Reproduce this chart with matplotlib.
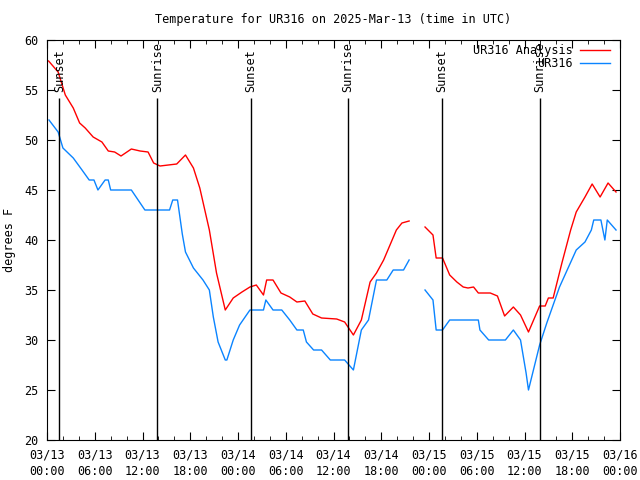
import matplotlib
matplotlib.use("Agg")
import matplotlib.pyplot as plt
import numpy as np

# Hours since 03/13 00:00 UTC
analysis_hours = [0.2, 1.4, 2.3, 3.3, 4.1, 4.8, 5.8, 6.9, 7.7, 8.5, 9.3, 10.6, 11.7, 12.7,
                  13.4, 14.2, 16.3, 17.4, 18.4, 19.2, 20.4, 21.3, 22.4, 23.4, 24.5, 25.5,
                  26.3, 27.2, 27.6, 28.4, 29.4, 30.5, 31.4, 32.4, 33.4, 34.5, 36.4, 37.4,
                  38.5, 39.5, 40.6, 41.4, 42.3, 43.1, 43.9, 44.6, 45.5, 46.5,
                  47.5, 48.5, 48.9, 49.7, 50.6, 51.5, 52.3, 52.9, 53.6, 54.2, 55.7, 56.6,
                  57.5, 58.6, 59.5, 60.5, 61.9, 62.6, 63.0, 63.6, 64.7, 65.8, 66.5, 67.6,
                  68.5, 69.5, 70.5, 71.5]
analysis_temp = [57.9, 56.8, 54.5, 53.2, 51.7, 51.2, 50.3, 49.8, 48.9, 48.8, 48.4, 49.1, 48.9, 48.8,
                 47.7, 47.4, 47.6, 48.5, 47.2, 45.2, 41.0, 36.7, 33.0, 34.2, 34.8, 35.3,
                 35.5, 34.5, 36.0, 36.0, 34.7, 34.3, 33.8, 33.9, 32.6, 32.2, 32.1, 31.8,
                 30.5, 32.0, 35.8, 36.7, 38.0, 39.5, 41.0, 41.7, 41.9, np.nan,
                 41.3, 40.5, 38.2, 38.2, 36.5, 35.8, 35.3, 35.2, 35.3, 34.7, 34.7, 34.4,
                 32.4, 33.3, 32.5, 30.8, 33.4, 33.4, 34.2, 34.2, 37.7, 41.0, 42.8, 44.3,
                 45.6, 44.3, 45.7, 44.8]

obs_hours = [0.25, 1.4, 2.0, 3.3, 4.4, 5.3, 5.9, 6.4, 7.3, 7.7, 8.0, 10.6, 12.3, 15.4, 15.8,
             16.4, 17.0, 17.4, 18.4, 19.6, 20.4, 20.9, 21.5, 22.4, 22.6, 23.4, 24.2, 25.5,
             27.2, 27.5, 28.4, 29.5, 30.5, 31.4, 32.2, 32.6, 33.5, 34.5, 35.6, 37.4, 38.5,
             39.5, 40.4, 41.4, 42.7, 43.5, 44.8, 45.5, 46.5,
             47.5, 48.5, 48.9, 49.7, 50.6, 54.2, 54.4, 55.5, 57.6, 58.6, 59.5, 60.2, 60.5,
             61.9, 62.8, 64.4, 66.5, 67.6, 68.4, 68.7, 69.6, 70.1, 70.4, 71.5]
obs_temp = [52.0, 50.8, 49.2, 48.2, 47.0, 46.0, 46.0, 45.0, 46.0, 46.0, 45.0, 45.0, 43.0, 43.0, 44.0,
            44.0, 40.6, 38.8, 37.2, 36.0, 35.0, 32.3, 29.8, 28.0, 28.0, 30.0, 31.5, 33.0,
            33.0, 34.0, 33.0, 33.0, 32.0, 31.0, 31.0, 29.8, 29.0, 29.0, 28.0, 28.0, 27.0,
            31.0, 32.0, 36.0, 36.0, 37.0, 37.0, 38.0, np.nan,
            35.0, 34.0, 31.0, 31.0, 32.0, 32.0, 31.0, 30.0, 30.0, 31.0, 30.0, 26.7, 25.0,
            29.5, 31.7, 35.3, 39.0, 39.8, 41.0, 42.0, 42.0, 40.0, 42.0, 41.0]

sun_hours = [1.57, 13.87, 25.6, 37.85, 49.65, 61.9]
sun_labels = ["Sunset", "Sunrise", "Sunset", "Sunrise", "Sunset", "Sunrise"]

tick_hours = list(range(0, 73, 6))
tick_labels = ["03/13\n00:00", "03/13\n06:00", "03/13\n12:00", "03/13\n18:00",
               "03/14\n00:00", "03/14\n06:00", "03/14\n12:00", "03/14\n18:00",
               "03/15\n00:00", "03/15\n06:00", "03/15\n12:00", "03/15\n18:00",
               "03/16\n00:00"]

plt.rcParams["font.family"] = ["DejaVu Sans Mono"]

fig = plt.figure(figsize=(6.4, 4.8), dpi=100)
ax = fig.add_axes([47 / 640, 40 / 480, 573 / 640, 400 / 480])

ax.plot(analysis_hours, analysis_temp, color="#ff0000", linewidth=1.0, label="UR316 Analysis")
ax.plot(obs_hours, obs_temp, color="#0a84ff", linewidth=1.0, label="UR316")

for h, lab in zip(sun_hours, sun_labels):
    ax.vlines(h, 20, 54.2, color="black", linewidth=1.0)
    ax.text(h, 54.8, lab, rotation=90, ha="center", va="bottom", fontsize=8.5)

ax.set_xlim(0, 72)
ax.set_ylim(20, 60)
ax.set_xticks(tick_hours)
ax.set_xticklabels(tick_labels, linespacing=1.35)
ax.set_xticks(range(0, 73, 2), minor=True)
ax.set_yticks(range(20, 61, 5))
ax.tick_params(which="both", direction="in", top=True, right=True, labelsize=8.5)
ax.tick_params(which="major", length=6)
ax.tick_params(which="minor", length=3)
ax.tick_params(axis="x", pad=6)
ax.tick_params(axis="y", pad=6)

fig.text(10 / 640, 1 - 240 / 480, "degrees F", rotation=90, ha="center", va="center", fontsize=8.5)
fig.text(333 / 640, 1 - 20 / 480, "Temperature for UR316 on 2025-Mar-13 (time in UTC)",
         ha="center", va="center", fontsize=8.5)

ax.legend(loc="upper right", bbox_to_anchor=(1 - 8 / 573, 1 - 2 / 400),
          frameon=False, markerfirst=False, fontsize=8.5,
          handlelength=2.5, labelspacing=0.0, borderaxespad=0.0, handletextpad=0.6,
          borderpad=0.2)

fig.savefig("out.png", dpi=100)
